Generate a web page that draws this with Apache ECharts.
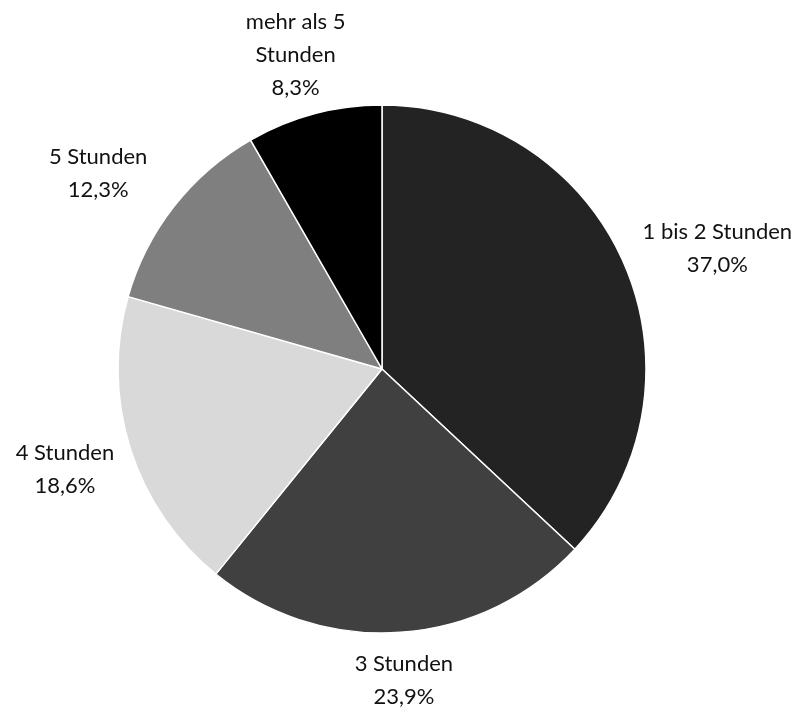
<!DOCTYPE html>
<html>
<head>
<meta charset="utf-8">
<script src="https://cdn.jsdelivr.net/npm/echarts@6/dist/echarts.min.js"></script>
<style>
html,body{margin:0;padding:0;background:#fff}
#chart{width:803px;height:713px}
</style>
</head>
<body>
<div id="chart"></div>
<script>
// Kategorien und Anteile (in %)
let categories=["1 bis 2 Stunden","3 Stunden","4 Stunden","5 Stunden","mehr als 5\nStunden"]
let values=[37.0,23.9,18.6,12.3,8.3]
let colors=['#232323','#404040','#d9d9d9','#7f7f7f','#000000']
// kleine Korrektur der Beschriftungsposition (px), wie im Original
let labelNudge=[[0,25],[0,-5],[3,-1],[-18,12],[0,10]]

let cx=382, cy=369, r=264
let total=values.reduce((a,b)=>a+b,0)
// mittlerer Winkel jedes Segments (im Uhrzeigersinn ab 12 Uhr)
let midAngles=[]
let acc=0
for(let i=0;i<values.length;i++){
    midAngles.push((acc+values[i]/2)/total*2*Math.PI)
    acc+=values[i]
}

let chart=echarts.init(document.getElementById('chart'))
chart.setOption({
    animation:false,
    series:[{
        type:'pie',
        center:[cx,cy],
        radius:r,
        startAngle:90,
        clockwise:true,
        color:colors,
        itemStyle:{borderColor:'#fff',borderWidth:1.5},
        label:{
            show:true,
            position:'outside',
            color:'#111',
            fontFamily:'Lato',
            fontSize:22,
            lineHeight:33,
            overflow:'none',
            formatter:function(p){
                return p.name+'\n'+p.value.toFixed(1).replace('.',',')+'%'
            }
        },
        labelLine:{show:false},
        labelLayout:function(params){
            let i=params.dataIndex
            let a=midAngles[i]
            let sx=Math.sin(a), sy=-Math.cos(a)
            let hw=params.labelRect.width/2, hh=params.labelRect.height/2
            let t=Math.min(Math.abs(sx)>1e-6?hw/Math.abs(sx):1e9, Math.abs(sy)>1e-6?hh/Math.abs(sy):1e9)
            let d=r+20+t
            return {x:cx+sx*d+labelNudge[i][0], y:cy+sy*d+labelNudge[i][1], align:'center', verticalAlign:'middle'}
        },
        data:categories.map((c,i)=>({name:c,value:values[i]}))
    }]
})
</script>
</body>
</html>
